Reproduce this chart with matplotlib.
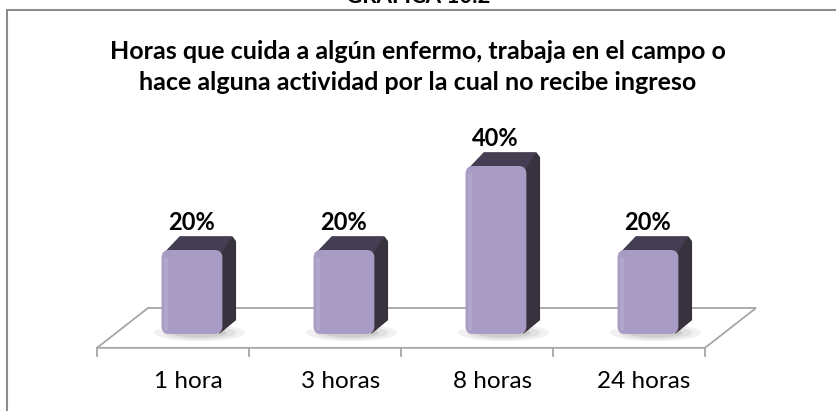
import numpy as np
import matplotlib
matplotlib.use('Agg')
import matplotlib.pyplot as plt
from matplotlib.patches import Polygon, Rectangle, FancyBboxPatch, Ellipse

plt.rcParams['font.family'] = ['Lato', 'DejaVu Sans']

# data
categories = ['1 hora', '3 horas', '8 horas', '24 horas']
values = [20, 20, 40, 20]
value_labels = ['20%', '20%', '40%', '20%']
title = ('Horas que cuida a algún enfermo, trabaja en el campo o\n'
         'hace alguna actividad por la cual no recibe ingreso')
header = 'GRÁFICA 10.2'

front_col = '#a89bc4'
side_col = '#38323f'
top_col = '#453e52'

W, H = 836, 411
fig = plt.figure(figsize=(W / 100, H / 100), dpi=100)
ax = fig.add_axes([0, 0, 1, 1])
ax.set_xlim(-1.138, 4.362)
ax.set_ylim(-18.33, 79.52)
ax.axis('off')

# outer border (only top/left visible in the crop)
fig.patches.append(Rectangle((7 / W, -0.1), 1.2, 1 - 10 / H + 0.1,
                             transform=fig.transFigure, fill=False,
                             edgecolor='#8c8c8c', lw=1.5))
fig.text(0.5, 1 - 3 / H, header, ha='center', va='baseline',
         fontsize=16, fontweight='bold')

# floor
n = len(categories)
fy0, fy1 = -3.3, 6.2
fdx = 0.336
floor = Polygon([(-0.5, fy0), (n - 0.5, fy0), (n - 0.5 + fdx, fy1), (-0.5 + fdx, fy1)],
                closed=True, facecolor='white', edgecolor='#a6a6a6', lw=1.3, zorder=1)
ax.add_patch(floor)
for b in np.arange(n + 1) - 0.5:
    ax.plot([b, b], [fy0, fy0 - 2.0], color='#a6a6a6', lw=1.3, zorder=1)

# bars
shift = 0.125
bw = 0.40
ddx, ddy = 0.09, 3.3
xs = np.arange(n) + shift
for x, v in zip(xs, values):
    xl, xr = x - bw / 2, x + bw / 2
    # shadow
    for k, a in zip([1.0, 0.8, 0.6], [0.08, 0.10, 0.12]):
        ax.add_patch(Ellipse((x + 0.05, 0.3), bw * 1.5 * k, 4.0 * k,
                             facecolor='#555555', alpha=a, lw=0, zorder=2))
    ax.add_patch(Polygon([(xr - 0.02, 0), (xr + ddx, ddy), (xr + ddx, v + ddy - 1.2),
                          (xr + ddx - 0.025, v + ddy), (xr - 0.02, v)],
                         closed=True, facecolor=side_col, edgecolor='none', zorder=3))
    ax.add_patch(Polygon([(xl + 0.02, v - 0.5), (xr, v - 0.5), (xr + ddx - 0.025, v + ddy),
                          (xl + ddx + 0.03, v + ddy)],
                         closed=True, facecolor=top_col, edgecolor='none', zorder=3))
    ax.add_patch(FancyBboxPatch((xl, 0), bw, v,
                                boxstyle='round,pad=0,rounding_size=0.05',
                                mutation_aspect=36, facecolor=front_col,
                                edgecolor='none', zorder=4))
    # soft highlight on the left of the front face
    ax.add_patch(Rectangle((xl + 0.015, 1.0), 0.03, v - 3.0, facecolor='white',
                           alpha=0.12, lw=0, zorder=5))

for x, v, lab in zip(xs, values, value_labels):
    ax.text(x - 0.005, v + ddy + 3.2, lab, ha='center', va='center',
            fontsize=17, fontweight='bold', zorder=6)

for i, c in enumerate(categories):
    ax.text(i + 0.1, -11.2, c, ha='center', va='center', fontsize=17.5)

fig.text(0.5, 1 - 67 / H, title, ha='center', va='center', fontsize=18,
         fontweight='bold', linespacing=1.42)

fig.savefig('out.png', dpi=100)
